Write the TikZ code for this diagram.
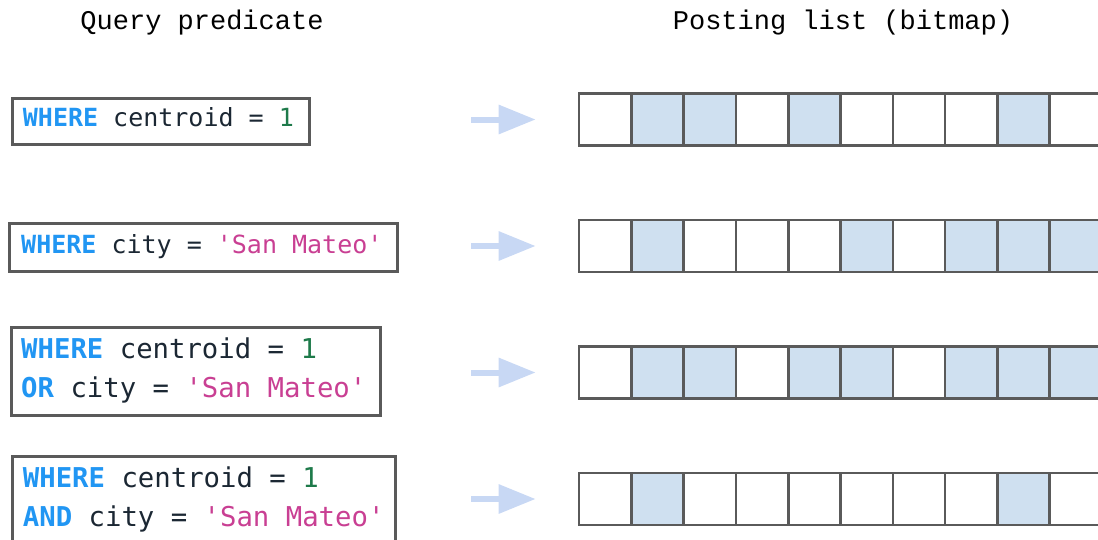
\documentclass[tikz,border=0pt]{standalone}
\usepackage{fontspec}
\usetikzlibrary{arrows.meta}
\newfontfamily\codefont{DejaVu Sans Mono}
\newfontfamily\headfont{Liberation Mono}
\definecolor{kw}{HTML}{2196F3}
\definecolor{txt}{HTML}{1B2733}
\definecolor{num}{HTML}{1E7A4A}
\definecolor{str}{HTML}{C93F93}
\definecolor{frame}{HTML}{5A5A5A}
\definecolor{bitblue}{HTML}{CFE0F0}
\definecolor{arrowblue}{HTML}{C8D8F4}
\newcommand{\K}[1]{\textcolor{kw}{\bfseries #1}}
\newcommand{\N}[1]{\textcolor{num}{#1}}
\newcommand{\Sv}[1]{\textcolor{str}{#1}}
\tikzset{
  head/.style={font=\headfont\fontsize{27}{32}\selectfont, text=black, inner sep=0pt, anchor=base},
  code/.style={font=\codefont\fontsize{25}{39}\selectfont, text=txt, inner sep=0pt, anchor=base west, align=left},
  bigcode/.style={code, font=\codefont\fontsize{27.3}{39}\selectfont},
  qbox/.style={draw=frame, line width=3pt, fill=white, inner sep=0pt, anchor=north west},
  cell/.style={draw=frame, line width=2.6pt, minimum width=52.3pt, minimum height=52pt, inner sep=0pt, fill=white},
  setcell/.style={cell, fill=bitblue},
  flow/.style={draw=arrowblue, line width=6pt, -{Triangle[length=37pt,width=28pt]}, shorten >=42pt}
}
\begin{document}
\begin{tikzpicture}[x=1pt,y=-1pt]
\useasboundingbox (0,0) rectangle (1098,539);
\clip (0,0) rectangle (1098,539);
% headers
\node[head] (h1) at (202,29.5) {Query predicate};
\node[head] (h2) at (843,29.5) {Posting list (bitmap)};
% query boxes
\node[qbox, minimum width=297pt, minimum height=46.3pt] (q1) at (11,96.7) {};
\node[qbox, minimum width=387.7pt, minimum height=48pt] (q2) at (8.3,222) {};
\node[qbox, minimum width=368.7pt, minimum height=88pt] (q3) at (10,326) {};
\node[qbox, minimum width=383.3pt, minimum height=95pt] (q4) at (10.7,455) {};
% query texts
\node[code] (t1) at (22.7,126.7) {\K{WHERE} centroid = \N{1}};
\node[code] (t2) at (21,253.3) {\K{WHERE} city = \Sv{'San Mateo'}};
\node[bigcode] (t3a) at (21,358.3) {\K{WHERE} centroid = \N{1}};
\node[bigcode] (t3b) at (21,397.3) {\K{OR} city = \Sv{'San Mateo'}};
\node[bigcode] (t4a) at (22.7,487.7) {\K{WHERE} centroid = \N{1}};
\node[bigcode] (t4b) at (22.7,526) {\K{AND} city = \Sv{'San Mateo'}};
% bitmaps
\foreach \r/\yc/\bits in {1/119.5/{1,2,4,8}, 2/246/{1,5,7,8,9}, 3/372.5/{1,2,4,5,7,8,9}, 4/499/{1,8}}{
  \foreach \c in {0,...,9}{
    \node[cell] (b\r-\c) at ({579+26.15+52.3*\c},\yc) {};
  }
  \foreach \c in \bits{
    \node[setcell] at (b\r-\c) {};
  }
  \coordinate (a\r) at (471,\yc);
  \draw[flow] (a\r) -- (b\r-0.west);
}
\end{tikzpicture}
\end{document}
